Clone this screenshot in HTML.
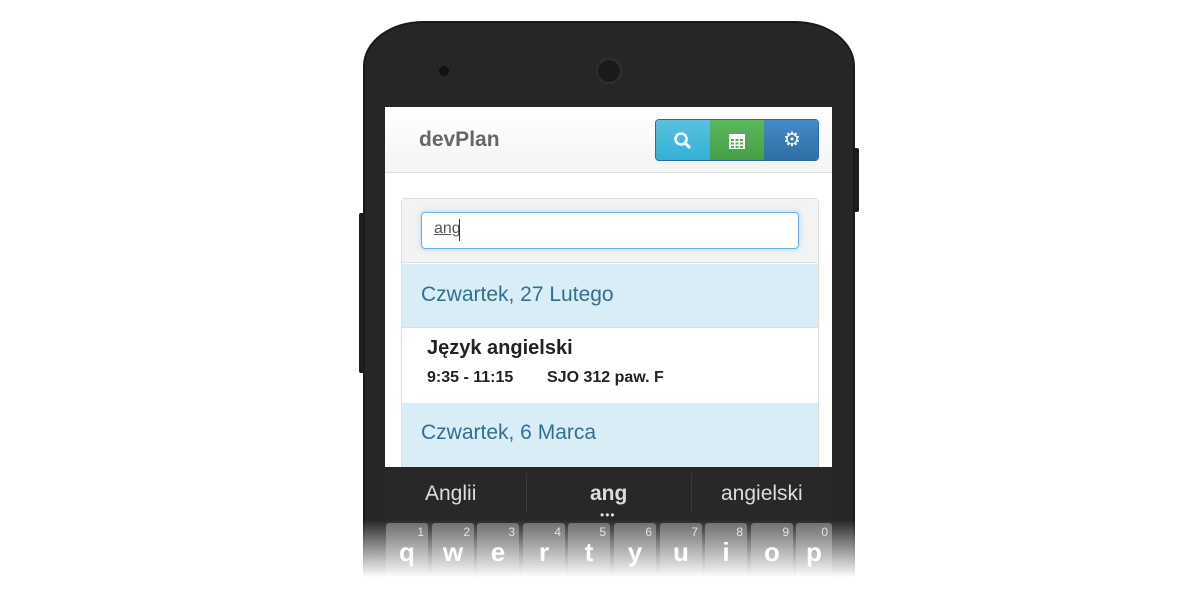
<!DOCTYPE html>
<html><head><meta charset="utf-8"><style>
*{margin:0;padding:0;box-sizing:border-box}
body{width:1200px;height:600px;background:#fff;position:relative;overflow:hidden;font-family:"Liberation Sans",sans-serif}
.a{position:absolute}
.phone{left:363px;top:21px;width:492px;height:565px;background:#262626;border-radius:60px 60px 0 0/45px 45px 0 0;border:2px solid #1a1a1a;border-bottom:none}
.key{position:absolute;top:523px;width:42px;height:60px;background:linear-gradient(#6a6a6a,#4a4a4a);border-radius:3px;color:#fff;font-weight:bold;font-size:26px;text-align:center;line-height:58px}
.key span{position:absolute;right:4px;top:-20px;font-size:12px;font-weight:normal;color:#ddd}
.btn{position:absolute;top:119px;height:42px;width:54px;color:#fff;text-align:center}
</style></head><body>
<div class="a" style="left:359px;top:213px;width:6px;height:160px;background:#1e1e1e;border-radius:2px"></div>
<div class="a" style="left:853px;top:148px;width:6px;height:64px;background:#1e1e1e;border-radius:2px"></div>
<div class="a phone"></div>
<div class="a" style="left:439px;top:66px;width:10px;height:10px;border-radius:50%;background:#111"></div>
<div class="a" style="left:596px;top:58px;width:26px;height:26px;border-radius:50%;background:#1a1a1a;border:2px solid #303030"></div>
<!-- screen -->
<div class="a" style="left:385px;top:107px;width:447px;height:360px;background:#fff"></div>
<div class="a" style="left:385px;top:107px;width:447px;height:66px;background:linear-gradient(#fff,#f4f4f4);border-bottom:1px solid #ddd"></div>
<div class="a" style="left:419px;top:128px;font-size:21px;font-weight:bold;color:#666">devPlan</div>
<div class="a" style="left:655px;top:119px;width:164px;height:42px;border-radius:4px;overflow:hidden;border:1px solid #2a6aa8">
<div class="btn" style="left:0;top:0;background:linear-gradient(#5bc0de,#31b0d5);width:54px"><svg width="20" height="20" style="margin-top:11px" viewBox="0 0 20 20"><circle cx="8" cy="8" r="5.5" fill="none" stroke="#fff" stroke-width="2.6"/><line x1="12" y1="12" x2="17" y2="17" stroke="#fff" stroke-width="3"/></svg></div>
<div class="btn" style="left:54px;top:0;background:linear-gradient(#5cb85c,#449d44)"><svg width="20" height="20" style="margin-top:11px" viewBox="0 0 20 20"><rect x="2" y="3" width="16" height="15" fill="#fff"/><g fill="#4cae4c"><rect x="4" y="8" width="3" height="2"/><rect x="8.5" y="8" width="3" height="2"/><rect x="13" y="8" width="3" height="2"/><rect x="4" y="11.5" width="3" height="2"/><rect x="8.5" y="11.5" width="3" height="2"/><rect x="13" y="11.5" width="3" height="2"/><rect x="4" y="15" width="3" height="2"/><rect x="8.5" y="15" width="3" height="2"/><rect x="13" y="15" width="3" height="2"/></g></svg></div>
<div class="btn" style="left:108px;top:0;background:linear-gradient(#428bca,#2d6ca2);width:56px;font-size:20px;line-height:40px">⚙</div>
</div>
<div class="a" style="left:401px;top:198px;width:418px;height:270px;border:1px solid #ddd;border-radius:4px 4px 0 0;background:#fff"></div>
<div class="a" style="left:402px;top:199px;width:416px;height:64px;background:#f3f3f3;border-bottom:1px solid #ddd"></div>
<div class="a" style="left:421px;top:212px;width:378px;height:37px;background:#fff;border:1px solid #66afe9;border-radius:4px;box-shadow:0 0 6px rgba(102,175,233,.5)"></div>
<div class="a" style="left:434px;top:220px;font-size:16px;color:#555;text-decoration:underline">ang</div>
<div class="a" style="left:459px;top:219px;width:1px;height:22px;background:#333"></div>
<div class="a" style="left:402px;top:264px;width:416px;height:63px;background:#d9edf7"></div>
<div class="a" style="left:421px;top:283px;font-size:21px;color:#31708f">Czwartek, 27 Lutego</div>
<div class="a" style="left:402px;top:327px;width:416px;height:76px;background:#fff;border-top:1px solid #ddd"></div>
<div class="a" style="left:427px;top:337px;font-size:20px;font-weight:bold;color:#222">Język angielski</div>
<div class="a" style="left:427px;top:369px;font-size:16px;font-weight:bold;color:#222">9:35 - 11:15</div>
<div class="a" style="left:547px;top:369px;font-size:16px;font-weight:bold;color:#222">SJO 312 paw. F</div>
<div class="a" style="left:402px;top:403px;width:416px;height:64px;background:#d9edf7"></div>
<div class="a" style="left:421px;top:421px;font-size:21px;color:#31708f">Czwartek, 6 Marca</div>
<!-- keyboard -->
<div class="a" style="left:385px;top:467px;width:447px;height:120px;background:#282828"></div>
<div class="a" style="left:526px;top:473px;width:1px;height:40px;background:#3a3a3a"></div>
<div class="a" style="left:691px;top:473px;width:1px;height:40px;background:#3a3a3a"></div>
<div class="a" style="left:425px;top:482px;font-size:21px;color:#ddd">Anglii</div>
<div class="a" style="left:590px;top:482px;font-size:21px;font-weight:bold;color:#ddd">ang</div>
<div class="a" style="left:600px;top:512px;font-size:12px;color:#ddd;letter-spacing:1px;line-height:6px">•••</div>
<div class="a" style="left:721px;top:482px;font-size:21px;color:#ddd">angielski</div>
<div class="key" style="left:386px"><span>1</span>q</div>
<div class="key" style="left:432px"><span>2</span>w</div>
<div class="key" style="left:477px"><span>3</span>e</div>
<div class="key" style="left:523px"><span>4</span>r</div>
<div class="key" style="left:568px"><span>5</span>t</div>
<div class="key" style="left:614px"><span>6</span>y</div>
<div class="key" style="left:660px"><span>7</span>u</div>
<div class="key" style="left:705px"><span>8</span>i</div>
<div class="key" style="left:751px"><span>9</span>o</div>
<div class="key" style="left:796px;width:36px"><span>0</span>p</div>
<div class="a" style="left:340px;top:520px;width:540px;height:80px;background:linear-gradient(rgba(255,255,255,0) 0%,rgba(255,255,255,.5) 35%,#fff 72%,#fff 100%)"></div>
</body></html>
